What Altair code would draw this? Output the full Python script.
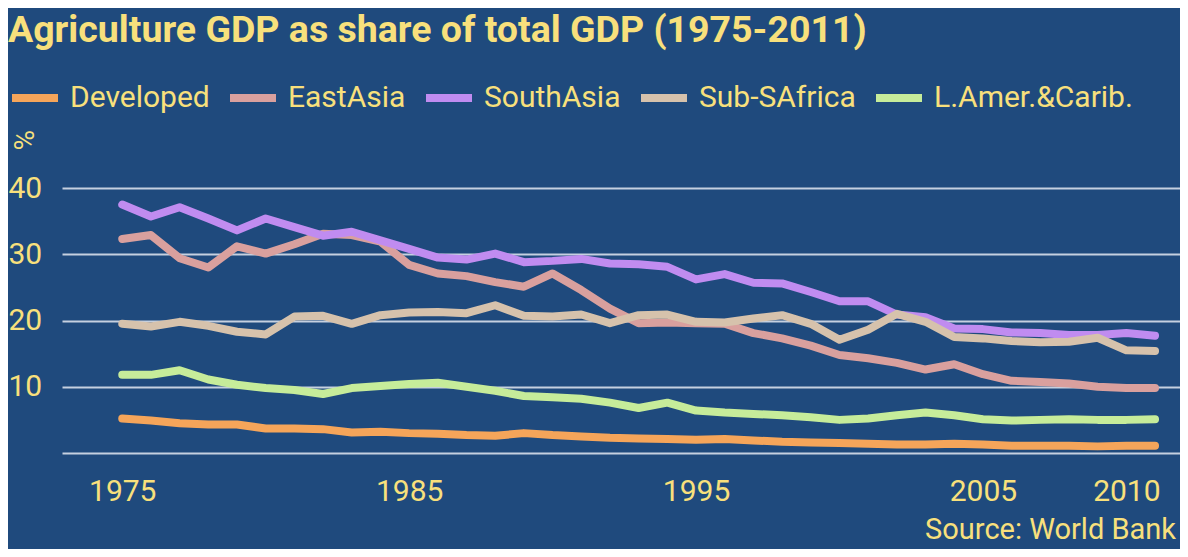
import altair as alt
import pandas as pd

years = list(range(1975, 2012))
series_names = ["Developed", "EastAsia", "SouthAsia", "Sub-SAfrica", "L.Amer.&Carib."]
series_colors = ["#f5a55a", "#d9a09e", "#c08cf0", "#d6c2ac", "#c6ec9a"]

developed = [5.2, 4.9, 4.5, 4.3, 4.3, 3.7, 3.7, 3.6, 3.1, 3.2,
             3.0, 2.9, 2.7, 2.6, 3.0, 2.7, 2.5, 2.3, 2.2, 2.1,
             2.0, 2.1, 1.9, 1.7, 1.6, 1.5, 1.4, 1.3, 1.3, 1.4,
             1.3, 1.1, 1.1, 1.1, 1.0, 1.1, 1.1]
east_asia = [32.3, 32.9, 29.4, 28.0, 31.2, 30.1, 31.5, 33.1, 32.9, 31.9,
             28.4, 27.1, 26.7, 25.8, 25.1, 27.1, 24.6, 21.8, 19.6, 19.7,
             19.6, 19.5, 18.1, 17.3, 16.2, 14.8, 14.3, 13.6, 12.6, 13.4,
             11.9, 10.9, 10.7, 10.5, 10.0, 9.8, 9.8]
south_asia = [37.5, 35.7, 37.1, 35.4, 33.6, 35.4, 34.1, 32.8, 33.4, 32.1,
              30.8, 29.5, 29.2, 30.1, 28.8, 29.0, 29.3, 28.6, 28.5, 28.1,
              26.2, 27.0, 25.7, 25.6, 24.3, 22.9, 22.9, 20.9, 20.5, 18.8,
              18.7, 18.2, 18.1, 17.8, 17.8, 18.1, 17.7]
sub_s_africa = [19.5, 19.1, 19.8, 19.2, 18.3, 17.9, 20.6, 20.7, 19.5, 20.8,
                21.2, 21.3, 21.1, 22.3, 20.7, 20.6, 20.9, 19.6, 20.8, 20.9,
                19.8, 19.7, 20.3, 20.8, 19.5, 17.1, 18.6, 21.0, 19.8, 17.5,
                17.3, 16.9, 16.7, 16.8, 17.4, 15.5, 15.4]
lat_amer = [11.8, 11.8, 12.5, 11.1, 10.3, 9.8, 9.5, 8.9, 9.8, 10.1,
            10.4, 10.6, 10.0, 9.4, 8.6, 8.4, 8.2, 7.6, 6.8, 7.6,
            6.4, 6.1, 5.9, 5.7, 5.4, 5.0, 5.2, 5.7, 6.1, 5.7,
            5.1, 4.9, 5.0, 5.1, 5.0, 5.0, 5.1]

x_tick_values = [1975, 1985, 1995, 2005, 2010]
y_tick_values = [0, 10, 20, 30, 40]

title_text = "Agriculture GDP as share of total GDP (1975-2011)"
source_text = "Source: World Bank"
unit_text = "%"

rows = []
for name, vals in zip(series_names, [developed, east_asia, south_asia, sub_s_africa, lat_amer]):
    for yr, v in zip(years, vals):
        rows.append({"year": yr, "share": v, "region": name})
df = pd.DataFrame(rows)

BG = "#1f4a7d"
TXT = "#f8e07c"
FONT = "Roboto"

lines = alt.Chart(df).mark_line(strokeWidth=8, strokeCap="round", strokeJoin="round").encode(
    x=alt.X("year:Q",
            scale=alt.Scale(domain=[1972.9, 2011.87], nice=False, zero=False),
            axis=alt.Axis(values=x_tick_values, format="d", title=None, grid=False,
                          domain=False, ticks=False, tickSize=0, labelPadding=38,
                          labelBaseline="middle", labelFontSize=30, labelColor=TXT,
                          labelFont=FONT, labelFlush=False, labelOverlap=False)),
    y=alt.Y("share:Q",
            scale=alt.Scale(domain=[0, 40], nice=False),
            axis=alt.Axis(values=y_tick_values, title=None, domain=False, ticks=False,
                          tickSize=0, labelAlign="left", labelPadding=54,
                          labelExpr="datum.value == 0 ? '' : datum.label",
                          labelFontSize=30, labelColor=TXT, labelFont=FONT,
                          grid=True, gridColor="#c5d0e0", gridWidth=2)),
    color=alt.Color("region:N",
                    scale=alt.Scale(domain=series_names, range=series_colors),
                    legend=alt.Legend(title=None, orient="none", legendX=-54, legendY=-117,
                                      direction="horizontal", columns=5,
                                      symbolType="stroke", symbolSize=2116,
                                      symbolStrokeWidth=8, labelFontSize=30,
                                      labelColor=TXT, labelFont=FONT, labelOffset=8,
                                      labelLimit=400, columnPadding=4, padding=0)),
)

title_layer = alt.Chart(pd.DataFrame({"t": [title_text]})).mark_text(
    align="left", baseline="middle", fontSize=37.5, fontWeight="bold", font=FONT, color=TXT
).encode(text="t:N", x=alt.value(-54), y=alt.value(-157))

unit_layer = alt.Chart(pd.DataFrame({"t": [unit_text]})).mark_text(
    align="center", baseline="middle", fontSize=28, font=FONT, color=TXT, angle=90
).encode(text="t:N", x=alt.value(-40), y=alt.value(-48))

source_layer = alt.Chart(pd.DataFrame({"t": [source_text]})).mark_text(
    align="right", baseline="middle", fontSize=29, font=FONT, color=TXT
).encode(text="t:N", x=alt.value(1114), y=alt.value(342))

chart = alt.layer(lines, title_layer, unit_layer, source_layer).properties(
    width=1118, height=265,
    background=BG,
    padding={"left": 54, "top": 180, "right": 0, "bottom": 96},
    autosize=alt.AutoSizeParams(type="none"),
).configure_view(stroke=None)

chart.save("out.html", embed_options={"renderer": "svg", "actions": False})
